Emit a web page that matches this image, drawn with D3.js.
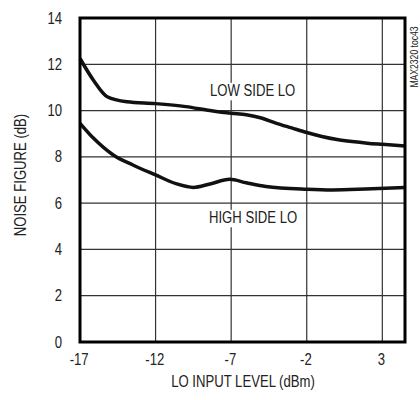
<!DOCTYPE html>
<html>
<head>
<meta charset="utf-8">
<script src="https://cdn.jsdelivr.net/npm/d3@7"></script>
<style>
  body { margin: 0; background: #fff; }
  text { font-family: "Liberation Sans", Arial, sans-serif; fill: #222; }
</style>
</head>
<body>
<div class="chart"></div>
<script>
// data
var loInput = [-17, -16.1, -15.2, -13.9, -12, -10, -8.4, -7, -6, -5, -4, -3, -2, -1, 0, 1, 2, 3, 4.5];
var lowSideNF = [12.25, 11.3, 10.6, 10.38, 10.3, 10.17, 10.0, 9.88, 9.82, 9.68, 9.45, 9.25, 9.05, 8.88, 8.75, 8.66, 8.59, 8.54, 8.47];

var loInputHigh = [-17, -16.1, -14.8, -13.5, -12, -10.6, -9.5, -8.4, -7.1, -6, -4.7, -2, -0.3, 1.9, 4.5];
var highSideNF = [9.45, 8.8, 8.08, 7.65, 7.22, 6.83, 6.68, 6.83, 7.03, 6.88, 6.72, 6.6, 6.57, 6.61, 6.68];

var xTicks = [-17, -12, -7, -2, 3];
var yTicks = [0, 2, 4, 6, 8, 10, 12, 14];

var svgWidth = 420;
var svgHeight = 400;
var margin = { top: 18, right: 15, bottom: 58, left: 80 };
var width = svgWidth - margin.left - margin.right;
var height = svgHeight - margin.top - margin.bottom;
var narrow = 0.82; // fake a condensed face

var svg = d3.select(".chart")
  .append("svg")
  .attr("width", svgWidth)
  .attr("height", svgHeight);

var chartGroup = svg.append("g")
  .attr("transform", `translate(${margin.left}, ${margin.top})`);

// scales
var xScale = d3.scaleLinear().domain([-17, 4.5]).range([0, width]);
var yScale = d3.scaleLinear().domain([0, 14]).range([height, 0]);

// grid lines
chartGroup.append("g")
  .selectAll("line")
  .data(xTicks.slice(1))
  .enter()
  .append("line")
  .attr("x1", d => xScale(d))
  .attr("x2", d => xScale(d))
  .attr("y1", 0)
  .attr("y2", height)
  .attr("stroke", "#333")
  .attr("stroke-width", 1.2);

chartGroup.append("g")
  .selectAll("line")
  .data(yTicks.slice(1, -1))
  .enter()
  .append("line")
  .attr("x1", 0)
  .attr("x2", width)
  .attr("y1", d => yScale(d))
  .attr("y2", d => yScale(d))
  .attr("stroke", "#333")
  .attr("stroke-width", 1.2);

// axes (labels only)
var xAxis = d3.axisBottom(xScale).tickValues(xTicks).tickSize(0).tickPadding(12)
  .tickFormat(d => String(d));
var yAxis = d3.axisLeft(yScale).tickValues(yTicks).tickSize(0).tickPadding(18 / narrow)
  .tickFormat(d => String(d));

var gx = chartGroup.append("g")
  .attr("transform", `translate(0, ${height})`)
  .call(xAxis);
var gy = chartGroup.append("g").call(yAxis);

[gx, gy].forEach(function (g) {
  g.select(".domain").remove();
  g.selectAll("text")
    .attr("font-size", "16px")
    .attr("fill", "#222")
    .attr("transform", `scale(${narrow},1)`)
    .style("font-family", null);
});
gx.selectAll("text").attr("dx", "-0.1em");

// curves
var line = d3.line()
  .x(d => xScale(d[0]))
  .y(d => yScale(d[1]))
  .curve(d3.curveMonotoneX);

chartGroup.append("path")
  .datum(d3.zip(loInput, lowSideNF))
  .attr("d", line)
  .attr("fill", "none")
  .attr("stroke", "#111")
  .attr("stroke-width", 3.5);

chartGroup.append("path")
  .datum(d3.zip(loInputHigh, highSideNF))
  .attr("d", line)
  .attr("fill", "none")
  .attr("stroke", "#111")
  .attr("stroke-width", 3.5);

function narrowText(parent, txt, x, y, size, rotate) {
  return parent.append("text")
    .attr("transform", `translate(${x},${y}) rotate(${rotate || 0}) scale(${narrow},1)`)
    .attr("font-size", size + "px")
    .text(txt);
}

// curve labels with white boxes
function curveLabel(txt, x, y) {
  var t = narrowText(svg, txt, x, y, 16);
  var bb = t.node().getBBox();
  svg.insert("rect", function () { return t.node(); })
    .attr("x", x + bb.x * narrow - 2)
    .attr("y", y + bb.y + 1)
    .attr("width", bb.width * narrow + 4)
    .attr("height", bb.height)
    .attr("fill", "#fff");
}
curveLabel("LOW SIDE LO", 210, 96);
curveLabel("HIGH SIDE LO", 209, 223);

// frame
chartGroup.append("rect")
  .attr("width", width)
  .attr("height", height)
  .attr("fill", "none")
  .attr("stroke", "#000")
  .attr("stroke-width", 3);

// axis titles
narrowText(svg, "LO INPUT LEVEL (dBm)", 243, 387, 16).attr("text-anchor", "middle");
narrowText(svg, "NOISE FIGURE (dB)", 26, 175, 16, -90).attr("text-anchor", "middle");
narrowText(svg, "MAX2320 toc43", 418, 57, 10.5, -90).attr("text-anchor", "middle");
</script>
</body>
</html>
